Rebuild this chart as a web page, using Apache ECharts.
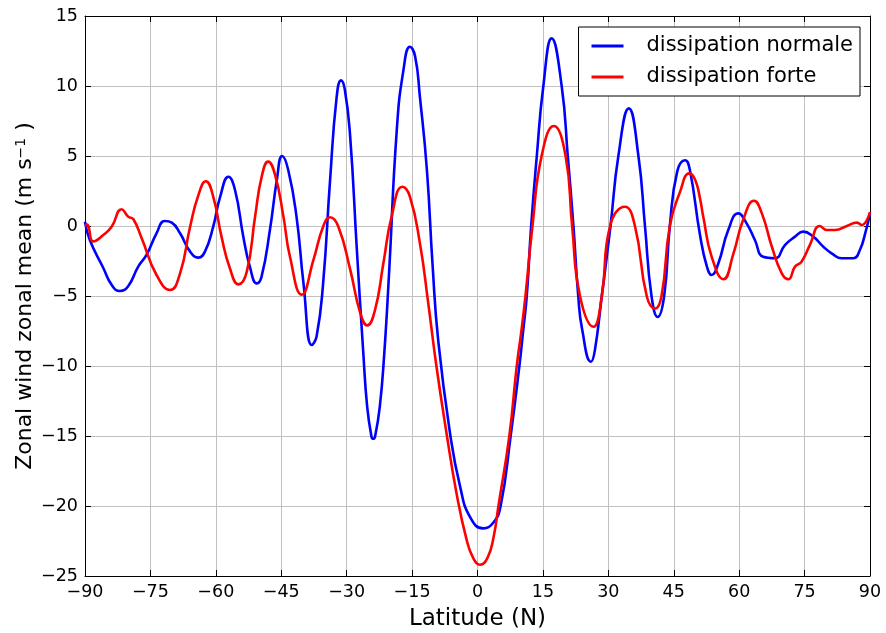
<!DOCTYPE html>
<html>
<head>
<meta charset="utf-8">
<script src="https://cdn.jsdelivr.net/npm/echarts@6/dist/echarts.min.js"></script>
<style>html,body{margin:0;padding:0;background:#fff;}#c{width:886px;height:633px;}</style>
</head>
<body>
<div id="c"></div>
<script>
var xTicks = [-90, -75, -60, -45, -30, -15, 0, 15, 30, 45, 60, 75, 90];
var yTicks = [-25, -20, -15, -10, -5, 0, 5, 10, 15];

var latNormale = [-90, -88.9, -85.8, -83.9, -82.0, -80.1, -77.8, -75.9, -73.6, -71.7, -70.1, -68.2, -65.9, -64.0, -62.5, -60.6, -59.0, -57.1, -55.6, -53.7, -52.2, -50.6, -49.5, -47.6, -46.0, -44.8, -43.4, -41.5, -39.9, -38.0, -36.9, -35.4, -33.8, -32.3, -31.3, -30.4, -29.2, -27.7, -26.2, -25.3, -24.3, -23.9, -23.5, -22.4, -21.4, -20.3, -18.5, -17.0, -15.5, -14.3, -13.2, -11.6, -10.3, -9.0, -6.3, -4.0, -1.7, 1.3, 3.6, 5.3, 7.6, 9.6, 10.5, 11.3, 12.3, 13.6, 15.1, 17.0, 19.3, 20.7, 22.0, 23.1, 24.0, 26.0, 26.9, 28.5, 30.5, 32.3, 34.7, 36.9, 38.4, 39.9, 41.3, 42.8, 44.1, 45.8, 47.6, 48.7, 51.0, 52.6, 53.7, 55.2, 57.5, 59.8, 61.7, 63.6, 65.5, 68.2, 70.5, 72.8, 74.7, 77.0, 79.3, 81.2, 83.5, 86.2, 87.7, 88.9, 90];
var normale = [0.3, -1.0, -3.0, -4.2, -4.64, -4.3, -2.9, -2.07, -0.52, 0.36, 0.24, -0.52, -1.83, -2.26, -1.83, -0.05, 2.1, 3.52, 2.57, -0.76, -2.9, -4.1, -3.6, -0.29, 3.3, 5.0, 4.0, 0.67, -4.1, -8.5, -7.9, -4.1, 3.3, 9.2, 10.4, 9.7, 6.4, -1.5, -9.0, -12.9, -15.05, -15.2, -15.05, -12.9, -9.2, -3.5, 6.9, 11.1, 12.8, 12.1, 9.2, 4.0, -2.8, -8.2, -14.8, -18.6, -20.8, -21.6, -21.2, -20.0, -15.0, -10.0, -7.4, -5.0, 0.0, 5.0, 10.0, 13.4, 10.0, 5.0, 0.0, -5.0, -7.4, -9.7, -8.9, -5.0, 0.0, 5.0, 8.4, 5.0, 0.0, -5.0, -6.5, -5.0, 0.0, 3.9, 4.7, 4.0, -0.6, -2.9, -3.5, -2.7, -0.29, 0.9, 0.19, -1.0, -2.2, -2.3, -1.36, -0.76, -0.4, -0.76, -1.48, -1.95, -2.3, -2.3, -1.7, -0.52, 0.9];

var latForte = [-90, -89.5, -88.1, -85.8, -83.9, -81.6, -80.1, -78.9, -77.0, -73.6, -70.5, -68.2, -65.9, -64.0, -62.3, -60.6, -58.7, -56.8, -54.8, -52.9, -51.0, -49.5, -48.0, -46.4, -44.5, -43.0, -40.3, -37.6, -35.4, -33.8, -31.9, -29.2, -26.9, -25.3, -23.5, -21.6, -19.7, -17.2, -15.5, -13.2, -11.3, -9.4, -7.1, -4.8, -2.5, -1.0, 0.6, 2.3, 3.7, 4.8, 7.3, 9.0, 10.1, 11.0, 12.6, 14.7, 17.5, 20.2, 21.7, 23.5, 26.6, 28.5, 30.4, 33.8, 36.1, 38.8, 40.7, 42.2, 44.1, 46.4, 48.6, 49.9, 51.0, 51.8, 53.7, 56.4, 58.7, 60.9, 63.4, 65.2, 67.5, 69.8, 71.3, 72.8, 74.3, 76.2, 78.5, 80.1, 82.0, 84.7, 87.0, 88.1, 90];
var forte = [0.0, 0.1, -1.1, -0.64, -0.05, 1.2, 0.67, 0.48, -0.88, -3.5, -4.57, -3.38, -0.05, 2.2, 3.2, 2.1, -0.76, -3.0, -4.17, -3.26, 0.67, 3.5, 4.6, 3.64, 0.67, -2.2, -4.9, -2.4, -0.05, 0.62, -0.05, -3.1, -6.2, -7.1, -6.0, -2.7, 0.67, 2.8, 2.1, -1.24, -5.5, -10.05, -14.8, -19.1, -22.4, -23.7, -24.2, -23.7, -22.2, -20.0, -15.0, -10.0, -7.4, -5.0, 0.0, 5.0, 7.14, 5.0, 0.0, -5.0, -7.2, -5.0, 0.0, 1.38, 0.0, -5.0, -5.9, -5.0, 0.0, 2.4, 3.76, 3.3, 2.0, 0.6, -2.2, -3.8, -1.95, 0.43, 1.8, 0.9, -1.48, -3.4, -3.8, -2.9, -2.55, -1.36, 0.0, -0.29, -0.29, 0.0, 0.24, 0.07, 1.0];

function pairs(xs, ys) { return xs.map(function (x, i) { return [x, ys[i]]; }); }
function minus(v) { return String(v).replace('-', '\u2212'); }

var font = 'DejaVu Sans';
var gridColor = '#c0c0c0';

var chart = echarts.init(document.getElementById('c'), null, {renderer: 'canvas'});
chart.setOption({
  animation: false,
  backgroundColor: '#ffffff',
  grid: {left: 85, right: 16, top: 16, bottom: 57, containLabel: false, outerBoundsMode: 'none'},
  legend: {
    right: 26, top: 27,
    orient: 'vertical',
    icon: 'rect',
    itemWidth: 32, itemHeight: 3,
    itemGap: 9,
    padding: [8, 7, 8, 13],
    borderColor: '#000', borderWidth: 1, borderRadius: 0,
    backgroundColor: '#fff',
    textStyle: {fontFamily: font, fontSize: 21, color: '#000', padding: [0, 0, 0, 18], lineHeight: 22},
    data: ['dissipation normale', 'dissipation forte']
  },
  xAxis: [{
    type: 'value', min: -90, max: 90, interval: 15,
    name: 'Latitude (N)', nameLocation: 'middle', nameGap: 32, nameMoveOverlap: false,
    nameTextStyle: {fontFamily: font, fontSize: 23, color: '#000'},
    axisLine: {show: true, onZero: false, lineStyle: {color: '#000', width: 1}},
    axisTick: {show: true, inside: true, length: 6, lineStyle: {color: '#000'}},
    axisLabel: {fontFamily: font, fontSize: 17.5, color: '#000', margin: 7, formatter: function (v) { return minus(v); }},
    splitLine: {show: true, lineStyle: {color: gridColor, width: 1}}
  }, {
    type: 'value', min: -90, max: 90, interval: 15, position: 'top',
    axisLine: {show: true, onZero: false, lineStyle: {color: '#000', width: 1}},
    axisTick: {show: true, inside: true, length: 6, lineStyle: {color: '#000'}},
    axisLabel: {show: false}, splitLine: {show: false}
  }],
  yAxis: [{
    type: 'value', min: -25, max: 15, interval: 5,
    name: '{a|Zonal wind zonal mean (m s}{s|\u22121}{a| )}', nameLocation: 'middle', nameGap: 49, nameRotate: 90, nameMoveOverlap: false,
    nameTextStyle: {fontFamily: font, fontSize: 22, color: '#000',
      rich: {a: {fontFamily: font, fontSize: 22, color: '#000'}, s: {fontFamily: font, fontSize: 14, color: '#000', verticalAlign: 'top', padding: [0, 0, 8, 0]}}},
    axisLine: {show: true, onZero: false, lineStyle: {color: '#000', width: 1}},
    axisTick: {show: true, inside: true, length: 6, lineStyle: {color: '#000'}},
    axisLabel: {fontFamily: font, fontSize: 17.5, color: '#000', margin: 7, formatter: function (v) { return minus(v); }},
    splitLine: {show: true, lineStyle: {color: gridColor, width: 1}}
  }, {
    type: 'value', min: -25, max: 15, interval: 5, position: 'right',
    axisLine: {show: true, onZero: false, lineStyle: {color: '#000', width: 1}},
    axisTick: {show: true, inside: true, length: 6, lineStyle: {color: '#000'}},
    axisLabel: {show: false}, splitLine: {show: false}
  }],
  series: [{
    name: 'dissipation normale', type: 'line', data: pairs(latNormale, normale),
    showSymbol: false, smooth: 0.5,
    lineStyle: {color: '#0000ff', width: 2.6}, itemStyle: {color: '#0000ff'}, z: 3
  }, {
    name: 'dissipation forte', type: 'line', data: pairs(latForte, forte),
    showSymbol: false, smooth: 0.5,
    lineStyle: {color: '#ff0000', width: 2.6}, itemStyle: {color: '#ff0000'}, z: 4
  }]
});
</script>
</body>
</html>
